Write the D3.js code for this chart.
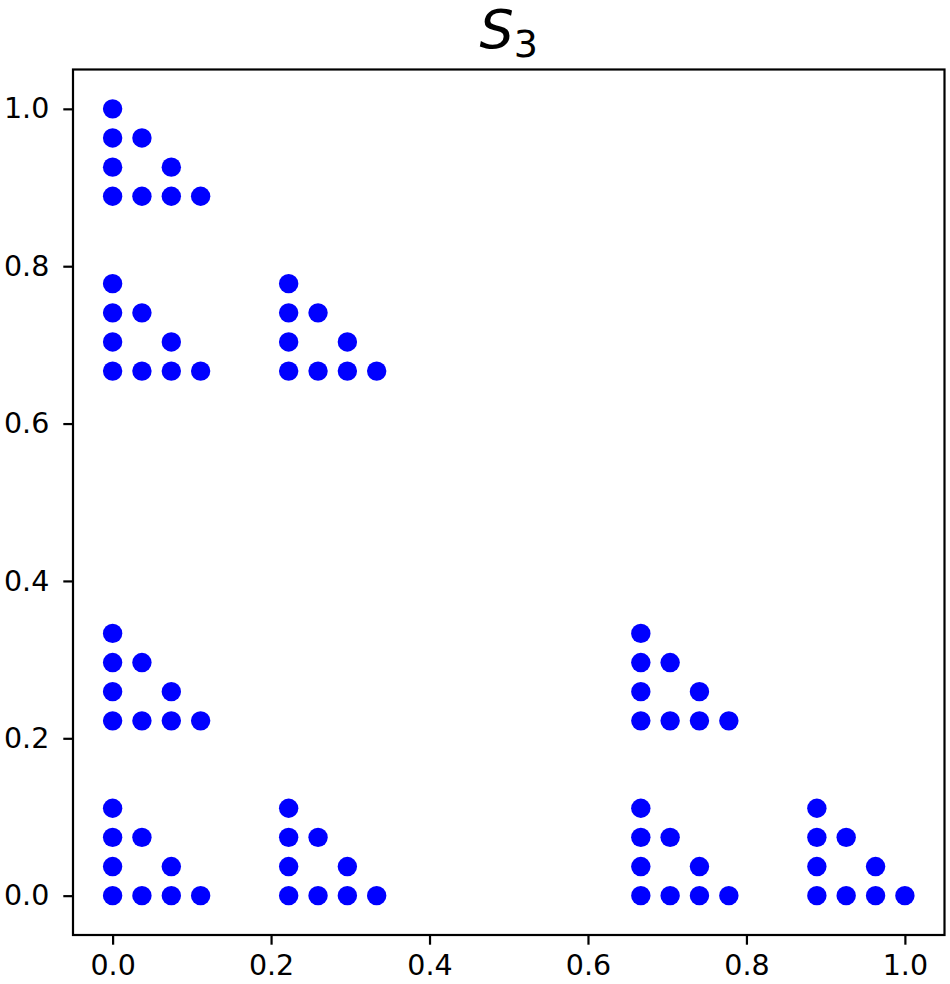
<!DOCTYPE html>
<html>
<head>
<meta charset="utf-8">
<script src="https://cdn.jsdelivr.net/npm/d3@7"></script>
<style>
  body { margin: 0; background: white; }
  svg text { font-family: "DejaVu Sans", sans-serif; }
</style>
</head>
<body>
<div id="chart"></div>
<script>
// point coordinates of S_3 (9 small triangles of 9 points)
const xValues = [
  0, 0.0370, 0.0741, 0.1111, 0, 0.0741, 0, 0.0370, 0,
  0.2222, 0.2593, 0.2963, 0.3333, 0.2222, 0.2963, 0.2222, 0.2593, 0.2222,
  0.6667, 0.7037, 0.7407, 0.7778, 0.6667, 0.7407, 0.6667, 0.7037, 0.6667,
  0.8889, 0.9259, 0.9630, 1.0000, 0.8889, 0.9630, 0.8889, 0.9259, 0.8889,
  0, 0.0370, 0.0741, 0.1111, 0, 0.0741, 0, 0.0370, 0,
  0.6667, 0.7037, 0.7407, 0.7778, 0.6667, 0.7407, 0.6667, 0.7037, 0.6667,
  0, 0.0370, 0.0741, 0.1111, 0, 0.0741, 0, 0.0370, 0,
  0.2222, 0.2593, 0.2963, 0.3333, 0.2222, 0.2963, 0.2222, 0.2593, 0.2222,
  0, 0.0370, 0.0741, 0.1111, 0, 0.0741, 0, 0.0370, 0
];
const yValues = [
  0, 0, 0, 0, 0.0370, 0.0370, 0.0741, 0.0741, 0.1111,
  0, 0, 0, 0, 0.0370, 0.0370, 0.0741, 0.0741, 0.1111,
  0, 0, 0, 0, 0.0370, 0.0370, 0.0741, 0.0741, 0.1111,
  0, 0, 0, 0, 0.0370, 0.0370, 0.0741, 0.0741, 0.1111,
  0.2222, 0.2222, 0.2222, 0.2222, 0.2593, 0.2593, 0.2963, 0.2963, 0.3333,
  0.2222, 0.2222, 0.2222, 0.2222, 0.2593, 0.2593, 0.2963, 0.2963, 0.3333,
  0.6667, 0.6667, 0.6667, 0.6667, 0.7037, 0.7037, 0.7407, 0.7407, 0.7778,
  0.6667, 0.6667, 0.6667, 0.6667, 0.7037, 0.7037, 0.7407, 0.7407, 0.7778,
  0.8889, 0.8889, 0.8889, 0.8889, 0.9259, 0.9259, 0.9630, 0.9630, 1.0000
];
const xTicks = [0, 0.2, 0.4, 0.6, 0.8, 1.0];
const yTicks = [0, 0.2, 0.4, 0.6, 0.8, 1.0];

const points = xValues.map((x, i) => [x, yValues[i]]);

const width = 950, height = 984;
const margin = { top: 69.5, right: 5.5, bottom: 49, left: 73 };
const fontSize = 28.5, tickLen = 9.7;

const svg = d3.select("#chart")
    .append("svg")
    .attr("width", width)
    .attr("height", height);

const x = d3.scaleLinear()
    .domain([-0.05, 1.05])
    .range([margin.left, width - margin.right]);

const y = d3.scaleLinear()
    .domain([-0.05, 1.05])
    .range([height - margin.bottom, margin.top]);

// X Axis
svg.append("g")
    .attr("transform", `translate(0, ${height - margin.bottom})`)
    .call(d3.axisBottom(x).tickValues(xTicks).tickFormat(d3.format(".1f"))
        .tickSize(tickLen).tickPadding(10.5).tickSizeOuter(0));

// Y Axis
svg.append("g")
    .attr("transform", `translate(${margin.left}, 0)`)
    .call(d3.axisLeft(y).tickValues(yTicks).tickFormat(d3.format(".1f"))
        .tickSize(tickLen).tickPadding(14).tickSizeOuter(0));

svg.selectAll(".domain").remove();
svg.selectAll(".tick line").attr("stroke", "black").attr("stroke-width", 2.2);
svg.selectAll(".tick text")
    .attr("fill", "black")
    .attr("font-size", fontSize + "px")
    .attr("font-family", "DejaVu Sans");

// frame
svg.append("rect")
    .attr("x", margin.left)
    .attr("y", margin.top)
    .attr("width", width - margin.right - margin.left)
    .attr("height", height - margin.bottom - margin.top)
    .attr("fill", "none")
    .attr("stroke", "black")
    .attr("stroke-width", 2.2);

// Dots
svg.selectAll("circle")
    .data(points)
    .enter()
    .append("circle")
    .attr("cx", d => x(d[0]))
    .attr("cy", d => y(d[1]))
    .attr("r", 9.7)
    .attr("fill", "#0000ff");

// Title S_3
const title = svg.append("text")
    .attr("x", (margin.left + width - margin.right) / 2)
    .attr("y", 48)
    .attr("text-anchor", "middle")
    .attr("fill", "black");
title.append("tspan")
    .attr("font-size", "54px")
    .attr("font-style", "italic")
    .text("S");
title.append("tspan")
    .attr("font-size", "38px")
    .attr("dy", 9)
    .text("3");
</script>
</body>
</html>
